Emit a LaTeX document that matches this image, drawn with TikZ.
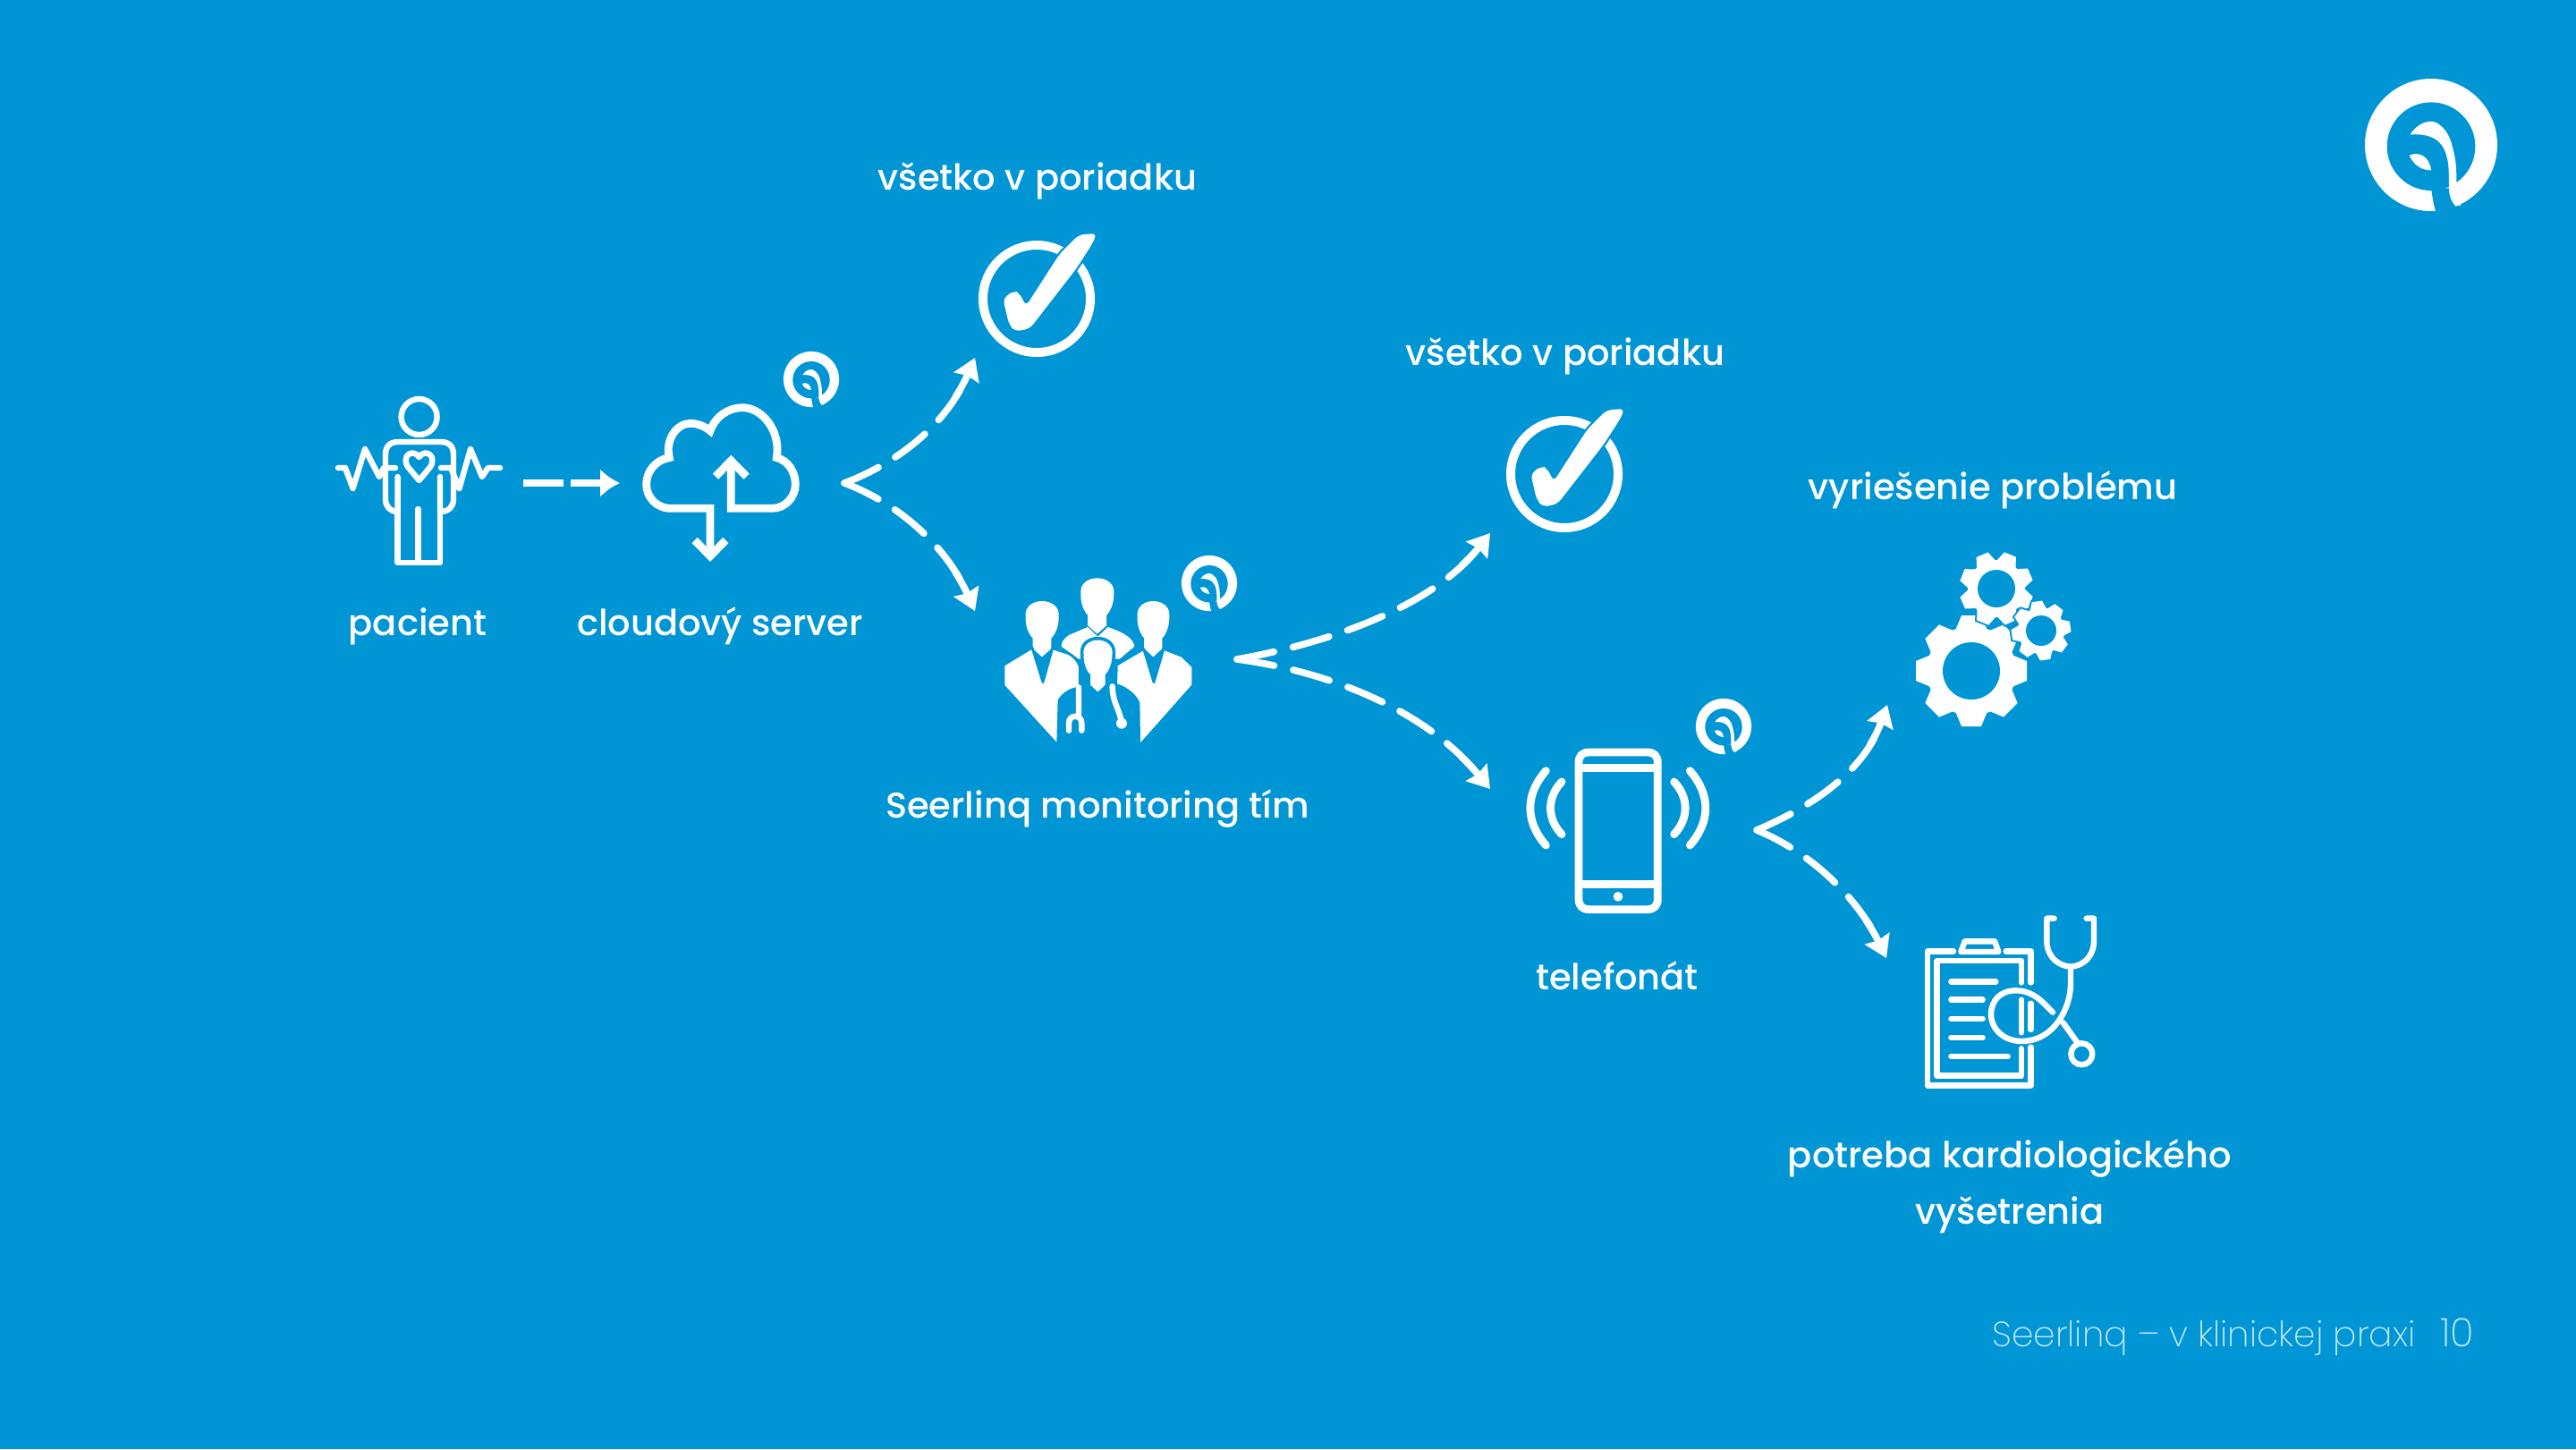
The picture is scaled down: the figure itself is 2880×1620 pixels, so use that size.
\documentclass[tikz,border=0pt]{standalone}
\usepackage{fontspec}
\setmainfont{Poppins}[UprightFont=* Medium]
\newfontfamily\thinfont{Poppins}[UprightFont=* ExtraLight]
\usetikzlibrary{arrows.meta}
\definecolor{bgblue}{HTML}{0096D6}
\definecolor{footcol}{HTML}{C4E9F8}
\tikzset{
  x=0.25pt,y=-0.25pt,
  lbl/.style={text=white,font=\fontsize{10}{12}\selectfont,anchor=base,inner sep=0pt},
  foot/.style={text=footcol,font=\thinfont\fontsize{9.8}{12}\selectfont,anchor=base,inner sep=0pt},
  icon/.style={draw=white,line width=1.6pt,line cap=round,line join=round},
  thick icon/.style={icon,line width=2.2pt},
  conn/.style={draw=white,line width=1.9pt,line cap=round,dash pattern=on 10.5pt off 5.5pt,-{Stealth[length=6pt,width=7.5pt,inset=0.6pt]}},
  connstem/.style={draw=white,line width=1.9pt,line cap=round,dash pattern=on 8pt off 1000pt,shorten <=4pt},
  bar conn/.style={draw=white,line width=2pt,dash pattern=on 11.25pt off 2pt,-{Latex[length=5.5pt,width=8pt]}},
}
\newcommand{\conncurve}[4]{%
 \draw[conn] (#1) .. controls (#2) and (#3) .. (#4);
 \draw[connstem] (#4) .. controls (#3) and (#2) .. (#1);}
\newcommand{\seerlogo}[3]{%
 \begin{scope}[shift={(#1,#2)},scale=#3]
  \fill[white] (0,0) circle (222);
  \fill[bgblue] (0,5) circle (148);
  \fill[white] (-70,-35) .. controls (-45,-75) and (0,-90) .. (25,-70) .. controls (60,-45) and (68,-10) .. (75,20) .. controls (85,60) and (85,90) .. (85,125) -- (150,125) -- (95,205) -- (60,170) .. controls (60,120) and (60,70) .. (55,50) .. controls (45,0) and (20,-40) .. cycle;
  \fill[bgblue] (0,145) .. controls (5,180) and (10,210) .. (18,230) -- (100,230) .. controls (90,205) and (60,200) .. (60,145) -- cycle;
  \fill[white] (-73,35) .. controls (-40,20) and (-5,40) .. (0,85) .. controls (-35,85) and (-60,65) .. cycle;
 \end{scope}}
\newcommand{\bluetick}[2]{%
 \begin{scope}[shift={(#1,#2)}]
  \draw[white,line width=2.5pt] (0,1) circle (60);
  \begin{scope}[scale=0.3333]
   \path[fill=white,draw=bgblue,line width=1.2pt,line join=round,rounded corners=1.5pt] (-36,28) -- (77,-147) -- (142,-212) -- (202,-216) -- (187,-182) -- (132,-97) -- (-23,103) -- (-73,113) -- (-93,88) -- (-113,3) -- (-78,-24) -- (-58,-17) -- cycle;
   \fill[white,rounded corners=1.5pt] (-36,28) -- (77,-147) -- (142,-212) -- (202,-216) -- (187,-182) -- (132,-97) -- (-23,103) -- (-73,113) -- (-93,88) -- (-113,3) -- (-78,-24) -- (-58,-17) -- cycle;
  \end{scope}
 \end{scope}}
\newcommand{\gearshape}[6]{% cx cy root tip hole offset
 \begin{scope}[shift={(#1,#2)}]
  \draw[bgblue,line width=1pt] (0,0) circle (#3);
  \foreach \a in {0,45,...,315}{
   \draw[bgblue,line width=1pt,rotate=\a+#6] (-0.36*#3,-0.9*#3) -- (-0.22*#3,-#4) -- (0.22*#3,-#4) -- (0.36*#3,-0.9*#3) -- cycle;}
  \fill[white] (0,0) circle (#3);
  \foreach \a in {0,45,...,315}{
   \fill[white,rotate=\a+#6] (-0.36*#3,-0.9*#3) -- (-0.22*#3,-#4) -- (0.22*#3,-#4) -- (0.36*#3,-0.9*#3) -- cycle;}
  \fill[bgblue] (0,0) circle (#5);
 \end{scope}}
\newcommand{\personhead}[4][]{%
 \path[fill=white,#1] (#2-#4*0.96,#3-5) .. controls (#2-#4*1.15,#3-77) and (#2+#4*1.15,#3-77) .. (#2+#4*0.98,#3-5) .. controls (#2+#4,#3+25) and (#2+#4*0.75,#3+55) .. (#2+#4*0.55,#3+65) -- (#2+#4*0.55,#3+100) -- (#2,#3+128) -- (#2-#4*0.55,#3+100) -- (#2-#4*0.55,#3+65) .. controls (#2-#4*0.75,#3+55) and (#2-#4,#3+25) .. cycle;}
\begin{document}
\begin{tikzpicture}
\useasboundingbox (0,0) rectangle (2880,1620);
\fill[bgblue] (0,0) rectangle (2880,1620);

% corner and small logos
\seerlogo{2718}{162}{0.3333}
\seerlogo{907}{424}{0.14}
\seerlogo{1352}{652}{0.14}
\seerlogo{1927}{812}{0.14}

% patient
\draw[icon] (468.6,466) circle (20);
\draw[icon] (444.6,572) -- (444.6,629) -- (492,629) -- (492,572);
\draw[icon] (444.6,533) -- (444.6,572) .. controls (436,572) and (431,566) .. (431,558) -- (431,508) .. controls (431,499) and (436,494) .. (445,494) -- (493,494) .. controls (502,494) and (507,499) .. (507,508) -- (507,558) .. controls (507,566) and (502,572) .. (492,572) -- (492,533);
\draw[icon] (467.5,569) -- (467.5,629);
\draw[icon] (468.6,537) -- (456,522) .. controls (448,509) and (462,501) .. (468.6,511) .. controls (475,501) and (489,509) .. (481,522) -- cycle;
\draw[icon] (378,523) -- (386,523) -- (394.6,546) -- (408,502) -- (424,533) -- (429,523) -- (442,523);
\draw[icon] (493,523) -- (504,523) -- (513.5,546) -- (526,502) -- (539,533) -- (545.6,523) -- (559,523);

% cloud
\begin{scope}[shift={(700,440)},scale=0.3333]
 \draw[thick icon,line cap=butt,line join=miter] (282,550) -- (282,385) -- (150,385) .. controls (100,385) and (68,345) .. (68,305) .. controls (68,260) and (100,222) .. (145,215) .. controls (130,155) and (170,100) .. (215,100) .. controls (240,100) and (265,110) .. (282,125) .. controls (300,75) and (345,47) .. (390,47) .. controls (460,47) and (520,130) .. (505,215) .. controls (545,225) and (568,265) .. (568,305) .. controls (568,345) and (535,385) .. (490,385) -- (352,385) -- (352,230);
 \draw[thick icon,line cap=butt,line join=miter] (300,278) -- (352,225) -- (404,278);
 \draw[thick icon,line cap=butt,line join=miter] (230,492) -- (282,545) -- (334,492);
\end{scope}

% connector ends
\coordinate (patout) at (585,540);
\coordinate (cloudin) at (693,540);
\coordinate (cloudout) at (944,540);
\coordinate (okA) at (1090,400);
\coordinate (teamin) at (1090,683);
\coordinate (teamout) at (1383,737);
\coordinate (okB) at (1666,596);
\coordinate (phonein) at (1666,882);
\coordinate (phoneout) at (1964,928);
\coordinate (gearin) at (2110,788);
\coordinate (clipin) at (2109,1071);

\draw[bar conn] (patout) -- (cloudin);
\conncurve{cloudout}{1010,515}{1060,470}{okA}
\conncurve{cloudout}{1010,565}{1060,615}{teamin}
\conncurve{teamout}{1480,720}{1600,680}{okB}
\conncurve{teamout}{1480,750}{1590,790}{phonein}
\conncurve{phoneout}{2030,900}{2085,860}{gearin}
\conncurve{phoneout}{2030,955}{2080,1010}{clipin}

% checks
\bluetick{1159}{333}
\bluetick{1749}{529}

% team
\begin{scope}[shift={(1080,620)},scale=0.3333]
  % back person
  \personhead{440}{138}{57}
  \fill[white] (408,243) -- (345,270) .. controls (325,285) and (320,295) .. (320,308) -- (378,350) -- (515,350) -- (565,308) .. controls (562,285) and (540,265) .. (476,243) -- (442,275) -- cycle;
  % centre person with its blue outline
  \personhead[draw=bgblue,line width=0.9pt]{442}{340}{55}
  % left person
  \personhead{255}{215}{57}
  \path[fill=white,draw=bgblue,line width=0.7pt,line join=round] (222,312) -- (126,370) -- (126,440) -- (308,640) -- (312,490) .. controls (322,470) and (345,455) .. (365,450) -- (382,445) -- (382,375) .. controls (375,355) and (360,340) .. (345,332) -- (290,314) -- (258,428) -- cycle;
  % right person
  \personhead{628}{215}{55}
  \path[fill=white,draw=bgblue,line width=0.7pt,line join=round] (596,316) -- (505,370) -- (503,437) .. controls (540,445) and (575,480) .. (579,500) -- (581,642) -- (761,439) -- (761,375) -- (725,340) -- (663,316) -- (630,428) -- cycle;
  % stethoscope
  \draw[white,line width=1.6pt,line cap=round] (378,445) -- (378,535) (345,590) -- (345,565) .. controls (345,535) and (388,535) .. (388,565) -- (388,590);
  \draw[white,line width=1.6pt,line cap=round] (491,442) .. controls (491,490) and (510,510) .. (522,560);
  \fill[white] (522,566) circle (18);
\end{scope}

% phone
\begin{scope}[shift={(1660,760)},scale=0.3333]
  \draw[thick icon] (315,278) .. controls (315,255) and (327,243) .. (350,243) -- (545,243) .. controls (568,243) and (580,255) .. (580,278) -- (580,735) .. controls (580,758) and (568,770) .. (545,770) -- (350,770) .. controls (327,770) and (315,758) .. (315,735) -- cycle;
  \draw[thick icon] (315,296) -- (580,296) (315,685) -- (580,685);
  \fill[white] (447,727) circle (16);
  \draw[thick icon] (205,305) .. controls (135,385) and (135,475) .. (205,555);
  \draw[thick icon] (258,342) .. controls (208,395) and (208,465) .. (258,518);
  \draw[thick icon] (635,342) .. controls (685,395) and (685,465) .. (635,518);
  \draw[thick icon] (688,305) .. controls (758,385) and (758,475) .. (688,555);
\end{scope}

% gears
\gearshape{2204}{750}{50}{62}{32}{0}
\gearshape{2232}{658}{32}{41}{21}{-22}
\gearshape{2282}{705}{26}{33}{17}{8}

% clipboard
\begin{scope}[shift={(2120,1010)},scale=0.3333]
  \draw[icon] (192,160) -- (105,160) -- (105,610) -- (452,610) -- (452,482);
  \draw[icon] (452,265) -- (452,160) -- (368,160);
  \draw[icon] (420,265) -- (420,192) -- (137,192) -- (137,578) -- (420,578) -- (420,487);
  \draw[icon] (217,162) -- (230,127) -- (330,127) -- (343,162) -- cycle;
  \draw[icon] (184,262) -- (334,262) (184,323) -- (290,323) (184,387) -- (290,387) (184,450) -- (290,450) (184,513) -- (374,513);
  \draw[icon] (420,323) -- (420,433) (451,335) -- (451,423);
  \draw[icon] (505,50) -- (530,50) (505,50) -- (505,125) .. controls (505,180) and (545,210) .. (585,212) .. controls (625,210) and (663,180) .. (663,125) -- (663,50) -- (638,50);
  \draw[icon] (585,212) -- (585,270) .. controls (585,350) and (530,462) .. (420,462) .. controls (360,462) and (318,420) .. (318,372) .. controls (318,325) and (350,292) .. (400,292) .. controls (460,292) and (490,330) .. (525,365);
  \draw[icon] (560,400) -- (610,470);
  \draw[icon] (622,505) circle (36);
\end{scope}

% labels
\node[lbl] (t1) at (1160,212) {všetko v poriadku};
\node[lbl] (t2) at (1750,408) {všetko v poriadku};
\node[lbl] (t3) at (2228,558) {vyriešenie problému};
\node[lbl] (t4) at (467,710) {pacient};
\node[lbl] (t5) at (805,710) {cloudový server};
\node[lbl] (t6) at (1227,914) {Seerlinq monitoring tím};
\node[lbl] (t7) at (1808,1106) {telefonát};
\node[lbl] (t8) at (2247,1305) {potreba kardiologického};
\node[lbl] (t9) at (2247,1368) {vyšetrenia};
\node[foot] (f1) at (2464,1505) {Seerlinq – v klinickej praxi};
\node[foot,font=\thinfont\fontsize{11}{12}\selectfont] (f2) at (2747,1505) {10};
\end{tikzpicture}
\end{document}
